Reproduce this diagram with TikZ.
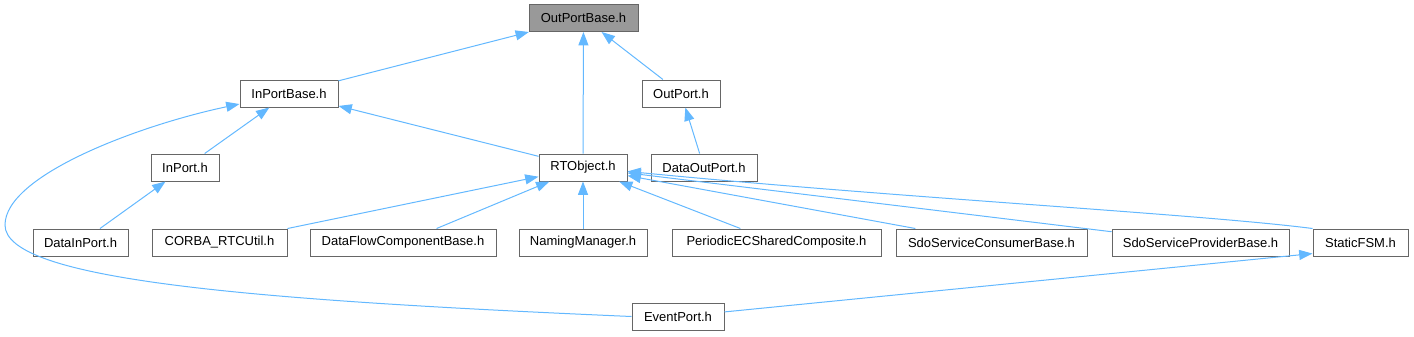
\documentclass[tikz,border=0pt]{standalone}
\usepackage{fontspec}
\setmainfont{Liberation Sans}
\usetikzlibrary{arrows.meta}
\definecolor{edgeblue}{HTML}{63B8FF}
\definecolor{boxline}{HTML}{666666}
\definecolor{boxfill}{HTML}{999999}
\tikzset{
    hbox/.style={draw=boxline, line width=0.75pt, fill=white, minimum height=20.25pt,
        inner sep=0pt, font=\fontsize{9.75}{12}\selectfont},
    edge/.style={draw=edgeblue, line width=0.75pt, -{Triangle[length=10pt, width=7.5pt]}}
}
\begin{document}
\begin{tikzpicture}[x=0.75pt, y=-0.75pt]
    \useasboundingbox (0,0) rectangle (1414,336);

    % 第一、二层
    \node[hbox, fill=boxfill, minimum width=81.75pt] (outportbase) at (583.5,18) {OutPortBase.h};
    \node[hbox, minimum width=73.5pt] (inportbase) at (289,93.5) {InPortBase.h};
    \node[hbox, minimum width=58.5pt] (outport) at (681,93.5) {OutPort.h};

    % 第三层
    \node[hbox, minimum width=51pt] (inport) at (185,167.5) {InPort.h};
    \node[hbox, minimum width=66pt] (rtobject) at (583,167.5) {RTObject.h};
    \node[hbox, minimum width=79.5pt] (dataoutport) at (704,167.5) {DataOutPort.h};

    % 第四层
    \node[hbox, minimum width=71.25pt] (datainport) at (80.5,242.5) {DataInPort.h};
    \node[hbox, minimum width=101.25pt] (corbartcutil) at (219.5,242.5) {CORBA\_RTCUtil.h};
    \node[hbox, minimum width=139.5pt] (dataflow) at (403,242.5) {DataFlowComponentBase.h};
    \node[hbox, minimum width=96pt] (naming) at (583,242.5) {NamingManager.h};
    \node[hbox, minimum width=156.75pt] (periodic) at (776.5,242.5) {PeriodicECSharedComposite.h};
    \node[hbox, minimum width=143.25pt] (consumer) at (991.5,242.5) {SdoServiceConsumerBase.h};
    \node[hbox, minimum width=132.75pt] (provider) at (1200.5,242.5) {SdoServiceProviderBase.h};
    \node[hbox, minimum width=71.25pt] (staticfsm) at (1360.5,242.5) {StaticFSM.h};

    % 第五层
    \node[hbox, minimum width=69pt] (eventport) at (678,316.5) {EventPort.h};

    % 依赖关系
    \draw[edge] (inportbase) -- (outportbase);
    \draw[edge] (rtobject) -- (outportbase);
    \draw[edge] (outport) -- (outportbase);
    \draw[edge] (inport) -- (inportbase);
    \draw[edge] (rtobject) -- (inportbase);
    \draw[edge] (dataoutport) -- (outport);
    \draw[edge] (datainport) -- (inport);
    \draw[edge] (corbartcutil) -- (rtobject);
    \draw[edge] (dataflow) -- (rtobject);
    \draw[edge] (naming) -- (rtobject);
    \draw[edge] (periodic) -- (rtobject);
    \draw[edge] (consumer) -- (rtobject);
    \draw[edge] (provider) -- (rtobject);
    \draw[edge] (staticfsm.north west) .. controls (1200,214) and (900,198) .. (rtobject.-5);
    \draw[edge] (eventport) -- (staticfsm.193);

    % 左侧绕行曲线
    \coordinate (leftbend) at (5,225);
    \draw[edge] (eventport.west) .. controls (250,300) and (5,280) .. (leftbend)
        .. controls (5,175) and (140,125) .. (inportbase.192);
\end{tikzpicture}
\end{document}
